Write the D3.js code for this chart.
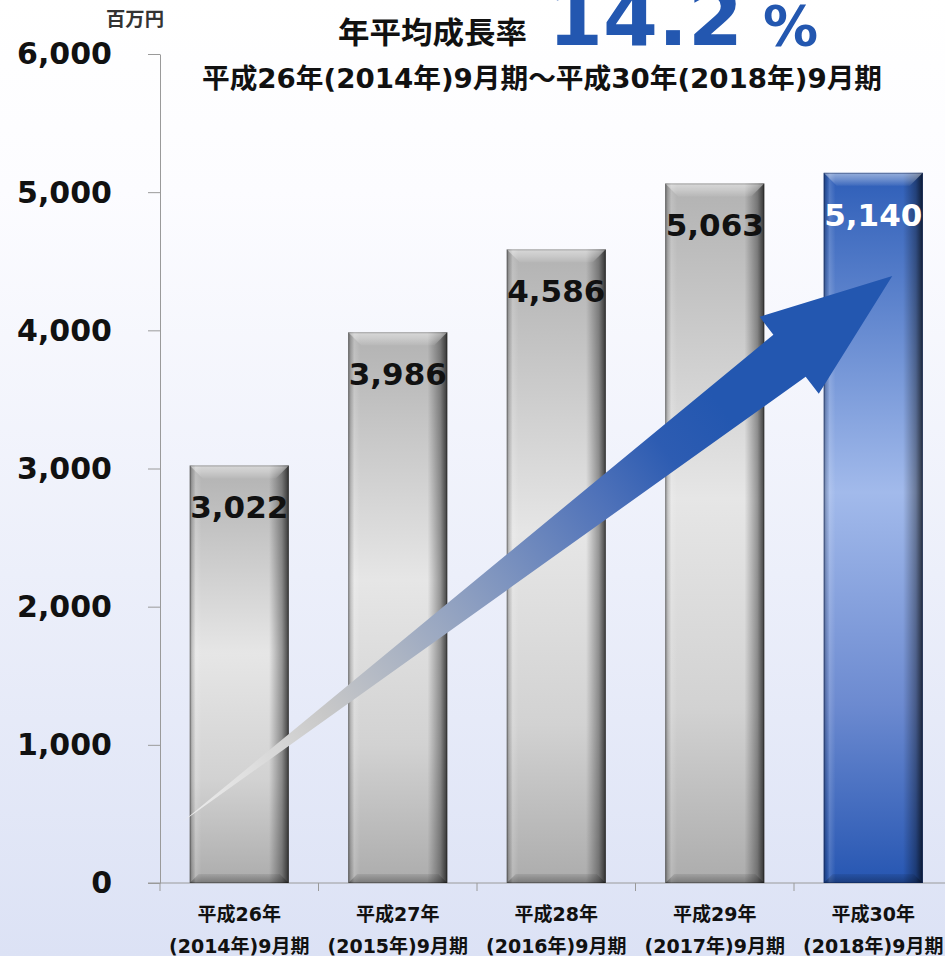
<!DOCTYPE html>
<html>
<head>
<meta charset="utf-8">
<script src="https://cdn.jsdelivr.net/npm/d3@7"></script>
<style>
  html, body { margin: 0; padding: 0; background: #fff; }
  svg { display: block; }
</style>
</head>
<body>
<svg id="chart" width="945" height="956"></svg>
<script>
// ---- data ----
const eraLabels = ["平成26年", "平成27年", "平成28年", "平成29年", "平成30年"];
const periodLabels = ["(2014年)9月期", "(2015年)9月期", "(2016年)9月期", "(2017年)9月期", "(2018年)9月期"];
const sales = [3022, 3986, 4586, 5063, 5140];           // 売上高（百万円）
const yTicks = [0, 1000, 2000, 3000, 4000, 5000, 6000];
const unitLabel = "百万円";
const titleLabel = "年平均成長率";
const growthRate = "14.2";
const growthUnit = "%";
const periodRange = "平成26年(2014年)9月期～平成30年(2018年)9月期";
// trend arrow: [band index, offset in band steps, value]
const trendFrom = [0, -0.36, 441];
const trendTo = [4, 0.12, 4393];

// ---- setup ----
const W = 945, H = 956;
const FONT = "'DejaVu Sans','Noto Sans CJK JP',sans-serif";
const BLUE = "#2357b0";
const svg = d3.select("#chart");
const defs = svg.append("defs");

function linGrad(id, coords, stops, units) {
  const g = defs.append("linearGradient").attr("id", id)
    .attr("x1", coords[0]).attr("y1", coords[1])
    .attr("x2", coords[2]).attr("y2", coords[3]);
  if (units) g.attr("gradientUnits", units);
  stops.forEach(s => g.append("stop")
    .attr("offset", s[0]).attr("stop-color", s[1])
    .attr("stop-opacity", s[2] === undefined ? 1 : s[2]));
  return g;
}

linGrad("bg", [0, 0, 0, 1], [[0, "#ffffff"], [0.2, "#fcfcff"], [1, "#dce2f5"]]);
linGrad("barGray", [0, 0, 0, 1], [[0, "#b2b2b2"], [0.45, "#e6e6e6"], [0.75, "#d2d2d2"], [1, "#acacac"]]);
linGrad("barBlue", [0, 0, 0, 1], [[0, "#2e5eb8"], [0.45, "#a2baeb"], [0.75, "#6c8ad0"], [1, "#2656b2"]]);
linGrad("sideShade", [0, 0, 1, 0], [
  [0, "#000", 0.35], [0.03, "#000", 0.12], [0.06, "#fff", 0.15], [0.12, "#fff", 0],
  [0.8, "#000", 0], [0.93, "#000", 0.35], [1, "#000", 0.72]]);
linGrad("bevelTop", [0, 0, 0, 1], [[0, "#fff", 0.5], [0.5, "#fff", 0.3], [1, "#fff", 0.05]]);
linGrad("bevelBottom", [0, 0, 0, 1], [[0, "#000", 0.08], [1, "#000", 0.3]]);

// ---- scales ----
const x = d3.scaleBand().domain(d3.range(sales.length))
  .range([160, 952.5]).paddingInner(0.375).paddingOuter(0.1875);
const y = d3.scaleLinear().domain([0, 6000]).range([883, 54]);

// background
svg.append("rect").attr("width", W).attr("height", H).attr("fill", "url(#bg)");

// ---- axes ----
const yAxis = d3.axisLeft(y).tickValues(yTicks).tickFormat(d3.format(","))
  .tickSize(12).tickSizeOuter(0).tickPadding(36);
const yg = svg.append("g").attr("transform", "translate(160,0)").call(yAxis);
yg.select(".domain").attr("stroke", "#9a9a9a");
yg.selectAll(".tick line").attr("stroke", "#9a9a9a");
yg.selectAll(".tick text")
  .attr("font-family", FONT).attr("font-weight", "bold")
  .attr("font-size", 30).attr("fill", "#111").attr("dy", "0.33em");

const xg = svg.append("g");
xg.append("line").attr("x1", 148).attr("x2", W).attr("y1", y(0)).attr("y2", y(0))
  .attr("stroke", "#9a9a9a");
xg.selectAll("line.tk").data(d3.range(sales.length + 1)).join("line")
  .attr("class", "tk")
  .attr("x1", i => x.range()[0] + i * x.step())
  .attr("x2", i => x.range()[0] + i * x.step())
  .attr("y1", y(0)).attr("y2", y(0) + 8)
  .attr("stroke", "#9a9a9a");

// category labels
const cat = svg.append("g").attr("font-family", FONT).attr("font-weight", "bold")
  .attr("font-size", 19).attr("fill", "#111").attr("text-anchor", "middle");
cat.selectAll("text.era").data(eraLabels).join("text").attr("class", "era")
  .attr("x", (d, i) => x(i) + x.bandwidth() / 2).attr("y", 921).text(d => d);
cat.selectAll("text.period").data(periodLabels).join("text").attr("class", "period")
  .attr("x", (d, i) => x(i) + x.bandwidth() / 2).attr("y", 953).text(d => d);

// ---- bars ----
const bars = svg.append("g");
const bw = x.bandwidth();
const bevT = 13, bevB = 9;
sales.forEach((v, i) => {
  const x0 = x(i), x1 = x0 + bw, y0 = y(v), y1 = y(0);
  const last = i === sales.length - 1;
  const g = bars.append("g");
  g.append("rect").attr("x", x0).attr("y", y0).attr("width", bw).attr("height", y1 - y0)
    .attr("fill", last ? "url(#barBlue)" : "url(#barGray)");
  g.append("rect").attr("x", x0).attr("y", y0).attr("width", bw).attr("height", y1 - y0)
    .attr("fill", "url(#sideShade)");
  g.append("polygon")
    .attr("points", [[x0, y0], [x1, y0], [x1 - bevT, y0 + bevT], [x0 + bevT, y0 + bevT]].join(" "))
    .attr("fill", "url(#bevelTop)");
  g.append("polygon")
    .attr("points", [[x0, y1], [x1, y1], [x1 - bevB, y1 - bevB], [x0 + bevB, y1 - bevB]].join(" "))
    .attr("fill", "url(#bevelBottom)");
  g.append("rect").attr("x", x0 + 0.5).attr("y", y0 + 0.5).attr("width", bw - 1).attr("height", y1 - y0 - 1)
    .attr("fill", "none").attr("stroke", last ? "rgba(10,30,80,0.45)" : "rgba(0,0,0,0.25)");
});

// ---- trend arrow ----
const p0 = [x(trendFrom[0]) + bw / 2 + trendFrom[1] * x.step(), y(trendFrom[2])];
const p1 = [x(trendTo[0]) + bw / 2 + trendTo[1] * x.step(), y(trendTo[2])];
const dx = p1[0] - p0[0], dy = p1[1] - p0[1];
const L = Math.hypot(dx, dy);
const u = [dx / L, dy / L], n = [u[1], -u[0]];
const pt = (a, p) => [p0[0] + u[0] * a + n[0] * p, p0[1] + u[1] * a + n[1] * p];
const headBase = L - 130;
const arrowPts = [
  pt(0, 0), pt(headBase, 26), pt(headBase, 48.5), pt(L, 0),
  pt(headBase, -48.5), pt(headBase, -27)
];
linGrad("arrowGrad", [p0[0], p0[1], p1[0], p1[1]], [
  [0, "#ececec"], [0.1, "#dedede"], [0.2, "#c8c8c8"], [0.31, "#aab3c3"],
  [0.45, "#7e94bf"], [0.59, "#4f72b9"], [0.68, "#2d5cb2"], [0.76, BLUE], [1, BLUE]
], "userSpaceOnUse");
svg.append("polygon").attr("points", arrowPts.map(p => p.join(",")).join(" "))
  .attr("fill", "url(#arrowGrad)");

// value labels
svg.append("g").attr("font-family", FONT).attr("font-weight", "bold")
  .attr("font-size", 31).attr("text-anchor", "middle")
  .selectAll("text").data(sales).join("text")
  .attr("x", (d, i) => x(i) + bw / 2).attr("y", d => y(d) + 53)
  .attr("fill", (d, i) => i === sales.length - 1 ? "#fff" : "#111")
  .text(d => d3.format(",")(d));

// ---- titles ----
const t = svg.append("g").attr("font-family", FONT).attr("font-weight", "bold");
t.append("text").attr("x", 135).attr("y", 26).attr("text-anchor", "middle")
  .attr("font-size", 19).attr("fill", "#333")
  .attr("textLength", 58).attr("lengthAdjust", "spacingAndGlyphs").text(unitLabel);
t.append("text").attr("x", 338).attr("y", 43).attr("font-size", 30).attr("fill", "#111")
  .attr("textLength", 189).attr("lengthAdjust", "spacingAndGlyphs").text(titleLabel);
t.append("text").attr("x", 548).attr("y", 45).attr("font-size", 79).attr("fill", BLUE)
  .text(growthRate);
t.append("text").attr("x", 763).attr("y", 45).attr("font-size", 55).attr("fill", BLUE)
  .text(growthUnit);
t.append("text").attr("x", 202).attr("y", 88).attr("font-size", 27).attr("fill", "#111")
  .attr("textLength", 680).attr("lengthAdjust", "spacingAndGlyphs").text(periodRange);
</script>
</body>
</html>
